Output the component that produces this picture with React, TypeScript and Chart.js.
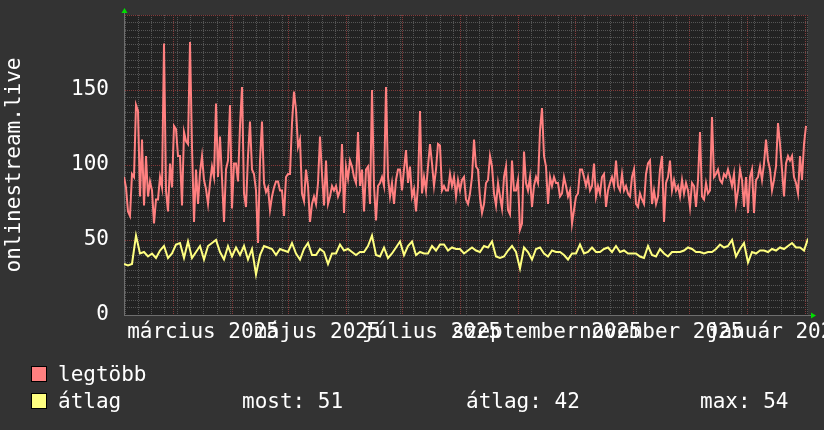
import React, { useEffect, useRef } from 'react';
import { Chart, registerables } from 'chart.js';

Chart.register(...registerables);

// ---- text ----
const Y_TITLE = 'onlinestream.live';
const SERIES_NAMES = ['legtöbb', 'átlag'];
const SERIES_COLORS = ['#ff8080', '#ffff80'];
const STAT_LABELS = ['most: 51', 'átlag: 42', 'max: 54'];

// ---- time axis (days, 0 = 2025-03-01) ----
const RANGE_START_DAY = -26.68;
const RANGE_DAYS = 365;
const MONTH_START_DAYS = [0, 31, 61, 92, 122, 153, 184, 214, 245, 275, 306, 337];
const MONTH_LABELS = ['március 2025', 'május 2025', 'július 2025', 'szeptember 2025', 'november 2025', 'január 2026'];
const MONTH_LABEL_DAYS = [15.5, 76.5, 137.5, 199, 260, 321.5];
const FIRST_MONDAY_DAY = -26;
const WEEK_DAYS = 7;

// ---- value axis ----
const Y_MAX = 200;
const Y_MINOR = 5;
const Y_MAJOR = 50;

// ---- series (sampled at a fixed step) ----
const MAX_SAMPLES = 342;
const MAX_STEP_DAYS = RANGE_DAYS / MAX_SAMPLES;
const AVG_STEP_DAYS = 2 * MAX_STEP_DAYS;

const legtobb = [
  92, 85, 69, 66, 94, 92, 140, 136, 79, 117, 73, 106, 79, 89, 83, 61, 77, 77, 92, 85,
  181, 83, 69, 101, 85, 126, 124, 106, 106, 73, 122, 116, 114, 182, 112, 62, 97, 74, 95, 106,
  90, 84, 74, 88, 99, 92, 141, 92, 119, 91, 62, 97, 103, 140, 71, 101, 101, 89, 126, 152,
  81, 72, 106, 129, 97, 94, 83, 48, 103, 129, 88, 82, 85, 70, 79, 85, 89, 89, 83, 83,
  66, 92, 94, 94, 128, 149, 137, 112, 117,
  81, 76, 97, 86, 62, 74, 79, 74, 88, 119, 94, 73, 103, 74, 79, 86, 83, 86, 79, 83,
  114, 68, 99, 91, 103, 99, 92, 88, 122, 86, 97, 69, 97, 99, 74, 150, 86, 63, 86, 88,
  92, 86, 152, 92, 79, 88, 74, 90, 97, 97, 83, 97, 110, 88, 99, 79, 84, 69, 86, 136,
  81, 92, 83, 99, 114, 101, 86, 97, 114, 113, 83, 86, 83, 83, 94, 86, 92, 79, 90, 83,
  90, 92, 77, 74, 81, 92, 117,
  99, 97, 78, 68, 74, 88, 90, 106, 99, 81, 73, 88, 79, 71, 92, 99, 70, 67, 103, 83,
  83, 90, 57, 61, 109, 88, 83, 92, 72, 86, 92, 88, 123, 138, 106, 99, 74, 92, 86, 92,
  88, 88, 79, 81, 92, 86, 79, 83, 61, 70, 79, 81, 97, 97, 92, 86, 92, 83, 86, 101,
  79, 86, 81, 92, 94, 72, 83, 88, 92, 86, 103, 86, 83, 94, 83, 86, 81, 79, 92, 97,
  74, 72, 81, 77, 74, 94, 101, 103,
  74, 83, 74, 79, 97, 106, 62, 88, 92, 103, 83, 90, 83, 86, 79, 90, 81, 88, 83, 72,
  88, 86, 72, 90, 122, 79, 77, 88, 81, 83, 132, 92, 94, 97, 90, 88, 94, 92, 97, 92,
  86, 94, 74, 83, 97, 90, 72, 92, 68, 92, 97, 68, 90, 92, 99, 90, 101, 117, 103, 97,
  83, 90, 99, 128, 114, 97, 79, 101, 106, 103, 106, 92, 88, 81, 106, 90, 114, 126,
];

const atlag = [
  34, 33, 34, 53, 41, 42, 39, 41, 38, 43, 46, 38, 41, 47, 48, 38, 49, 38, 42, 46,
  37, 46, 48, 50, 42, 37, 46, 39, 45, 40, 46, 37, 44, 27, 40, 46, 45, 44, 40, 44,
  43, 42, 48, 41, 37,
  44, 48, 40, 40, 44, 42, 34, 41, 41, 47, 43, 44, 42, 40, 42, 42, 46, 53, 40, 39,
  45, 38, 41, 45, 49, 40, 46, 49, 40, 42, 41, 41, 46, 43, 47, 47, 43, 45, 44, 44,
  41, 43, 45,
  43, 42, 46, 45, 49, 39, 38, 39, 43, 46, 42, 31, 45, 42, 37, 44, 45, 41, 39, 43,
  42, 42, 40, 37, 41, 41, 47, 41, 42, 45, 42, 42, 44, 45, 42, 46, 42, 43, 41, 41,
  41, 39, 38, 46,
  40, 39, 44, 41, 39, 42, 42, 42, 43, 45, 44, 42, 42, 41, 42, 42, 44, 47, 45, 46,
  50, 39, 44, 48, 35, 42, 41, 43, 43, 42, 44, 43, 45, 44, 46, 48, 45, 45, 43, 51,
];

// ---- styles ----
const FONT_FAMILY = '"DejaVu Sans Mono", monospace';
const FONT_SIZE = 21;
const FONT = `${FONT_SIZE}px ${FONT_FAMILY}`;
const BACK = '#333333';
const CANVAS = '#222222';
const MINOR_GRID = '#555555';
const MAJOR_GRID = '#843a3a';
const AXIS = '#6e6e6e';
const ARROW = '#00dd00';
const TEXT = '#ffffff';

const rrdPlugin = {
  id: 'rrdLook',
  beforeDraw(chart: any) {
    const { ctx, chartArea: a } = chart;
    ctx.save();
    ctx.fillStyle = BACK;
    ctx.fillRect(0, 0, chart.width, chart.height);
    ctx.fillStyle = CANVAS;
    ctx.fillRect(a.left, a.top, a.right - a.left, a.bottom - a.top);
    ctx.restore();
  },
  afterDraw(chart: any) {
    const { ctx, chartArea: a } = chart;
    const xs = chart.scales.x;
    ctx.save();
    // axis extensions + arrows
    ctx.strokeStyle = AXIS;
    ctx.lineWidth = 1;
    ctx.beginPath();
    ctx.moveTo(a.left + 0.5, a.top);
    ctx.lineTo(a.left + 0.5, a.top - 3);
    ctx.moveTo(a.right, a.bottom + 0.5);
    ctx.lineTo(a.right + 3, a.bottom + 0.5);
    ctx.stroke();
    ctx.fillStyle = ARROW;
    ctx.beginPath();
    ctx.moveTo(a.left - 2.5, a.top - 2);
    ctx.lineTo(a.left + 3.5, a.top - 2);
    ctx.lineTo(a.left + 0.5, a.top - 7);
    ctx.closePath();
    ctx.fill();
    ctx.beginPath();
    ctx.moveTo(a.right + 3, a.bottom - 2.5);
    ctx.lineTo(a.right + 3, a.bottom + 3.5);
    ctx.lineTo(a.right + 8, a.bottom + 0.5);
    ctx.closePath();
    ctx.fill();

    // month labels
    ctx.font = FONT;
    ctx.fillStyle = TEXT;
    ctx.textAlign = 'center';
    ctx.textBaseline = 'alphabetic';
    MONTH_LABELS.forEach((t, i) => {
      ctx.fillText(t, xs.getPixelForValue(MONTH_LABEL_DAYS[i]), a.bottom + 23);
    });

    // legend
    const rowBase = [381, 408];
    ctx.textAlign = 'left';
    SERIES_NAMES.forEach((name, i) => {
      ctx.fillStyle = SERIES_COLORS[i];
      ctx.fillRect(31, rowBase[i] - 15, 16, 16);
      ctx.strokeStyle = '#000000';
      ctx.strokeRect(31.5, rowBase[i] - 14.5, 15, 15);
      ctx.fillStyle = TEXT;
      ctx.fillText(name, 58, rowBase[i]);
    });
    const statX = [242, 466, 700];
    STAT_LABELS.forEach((t, i) => ctx.fillText(t, statX[i], rowBase[1]));
    ctx.restore();
  },
};

function weeklyDays(): number[] {
  const out: number[] = [];
  for (let d = FIRST_MONDAY_DAY; d <= RANGE_START_DAY + RANGE_DAYS; d += WEEK_DAYS) out.push(d);
  return out;
}

export default function App() {
  const ref = useRef<HTMLCanvasElement | null>(null);

  useEffect(() => {
    document.body.style.margin = '0';
    document.body.style.background = BACK;
    const canvas = ref.current;
    if (!canvas) return;

    const xMin = RANGE_START_DAY;
    const xMax = RANGE_START_DAY + RANGE_DAYS;
    const monthSet = new Set(MONTH_START_DAYS);
    const gridDays = Array.from(new Set([...weeklyDays(), ...MONTH_START_DAYS]))
      .filter((d) => d >= xMin && d <= xMax)
      .sort((p, q) => p - q);
    const yTicks: number[] = [];
    for (let v = 0; v <= Y_MAX; v += Y_MINOR) yTicks.push(v);

    const chart = new Chart(canvas, {
      type: 'line',
      data: {
        datasets: [
          {
            label: SERIES_NAMES[0],
            data: legtobb.map((v, i) => ({ x: RANGE_START_DAY + i * MAX_STEP_DAYS, y: v })),
            borderColor: SERIES_COLORS[0],
            borderWidth: 2,
            pointRadius: 0,
            tension: 0,
            fill: false,
          },
          {
            label: SERIES_NAMES[1],
            data: atlag.map((v, i) => ({ x: RANGE_START_DAY + i * AVG_STEP_DAYS, y: v })),
            borderColor: SERIES_COLORS[1],
            borderWidth: 2,
            pointRadius: 0,
            tension: 0,
            fill: false,
          },
        ],
      },
      options: {
        animation: false,
        responsive: false,
        devicePixelRatio: 1,
        layout: { padding: { top: 15, right: 16, left: 0, bottom: 0 } },
        plugins: { legend: { display: false }, tooltip: { enabled: false } },
        scales: {
          x: {
            type: 'linear',
            min: xMin,
            max: xMax,
            afterBuildTicks: (s: any) => {
              s.ticks = gridDays.map((v) => ({ value: v }));
            },
            afterFit: (s: any) => {
              s.height = 115;
              s.paddingLeft = 0;
              s.paddingRight = 0;
            },
            ticks: { display: false },
            grid: {
              drawTicks: false,
              lineWidth: 1,
              color: (c: any) => (c.tick && monthSet.has(c.tick.value) ? MAJOR_GRID : MINOR_GRID),
            },
            border: { display: true, color: AXIS, dash: [1, 1] },
          },
          y: {
            type: 'linear',
            min: 0,
            max: Y_MAX,
            afterBuildTicks: (s: any) => {
              s.ticks = yTicks.map((v) => ({ value: v }));
            },
            afterFit: (s: any) => {
              s.width = 124;
              s.paddingTop = 0;
              s.paddingBottom = 0;
            },
            ticks: {
              autoSkip: false,
              color: TEXT,
              font: { family: FONT_FAMILY, size: FONT_SIZE },
              padding: 15,
              labelOffset: 0,
              callback: (v: any) => (Number(v) % Y_MAJOR === 0 && Number(v) < Y_MAX ? String(v) : ''),
            },
            grid: {
              drawTicks: false,
              lineWidth: 1,
              color: (c: any) => (c.tick && c.tick.value % Y_MAJOR === 0 ? MAJOR_GRID : MINOR_GRID),
            },
            border: { display: true, color: AXIS, dash: [1, 1] },
            title: {
              display: true,
              text: Y_TITLE,
              color: TEXT,
              font: { family: FONT_FAMILY, size: FONT_SIZE },
              padding: { top: 2, bottom: 0 },
            },
          },
        },
      },
      plugins: [rrdPlugin],
    } as any);

    return () => chart.destroy();
  }, []);

  return (
    <div style={{ width: 824, height: 430 }}>
      <canvas ref={ref} width={824} height={430} style={{ display: 'block' }} />
    </div>
  );
}
